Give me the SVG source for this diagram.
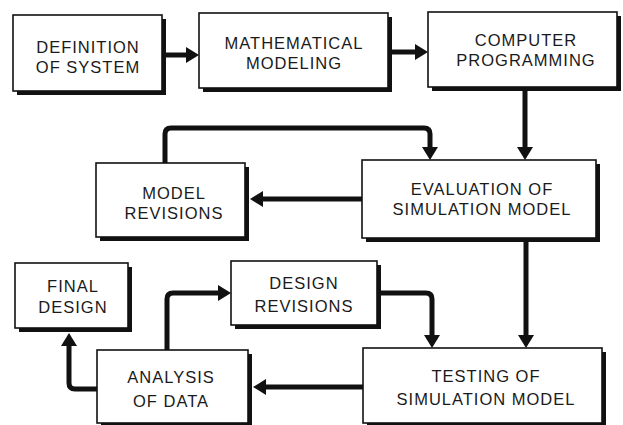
<svg xmlns="http://www.w3.org/2000/svg" width="623" height="425" viewBox="0 0 623 425">
<style>
.sh{fill:#111}
.bx{fill:#fff;stroke:#111;stroke-width:1.6}
.t{font-family:"Liberation Sans",Arial,sans-serif;font-size:16.5px;fill:#1a1a1a;text-anchor:middle;letter-spacing:1px}
.c{fill:none;stroke:#111;stroke-width:5;marker-end:url(#ah)}
</style>
<defs>
<marker id="ah" markerUnits="userSpaceOnUse" markerWidth="14" markerHeight="16" refX="0" refY="8" orient="auto" overflow="visible">
<path d="M0,0 L13,8 L0,16 Z" fill="#111"/>
</marker>
</defs>
<rect width="623" height="425" fill="#fff"/>
<g id="connectors">
<path class="c" d="M163,55 L186,55"/>
<path class="c" d="M389,52 L415,52"/>
<path class="c" d="M525,89 L525,147"/>
<path class="c" d="M165,164 L165,134 Q165,128 171,128 L424,128 Q430,128 430,134 L430,147"/>
<path class="c" d="M363,199 L263,199"/>
<path class="c" d="M526,240 L526,335"/>
<path class="c" d="M378,293 L426,293 Q432,293 432,299 L432,335"/>
<path class="c" d="M364,387 L266,387"/>
<path class="c" d="M167,351 L167,299 Q167,293 173,293 L218,293"/>
<path class="c" d="M98,389 L75,389 Q69,389 69,383 L69,346"/>
</g>
<g id="definition">
<rect class="sh" x="17" y="19" width="149" height="76"/>
<rect class="bx" x="13" y="15" width="149" height="76"/>
<text class="t" x="88" y="53">DEFINITION</text>
<text class="t" x="88" y="73">OF SYSTEM</text>
</g>
<g id="mathematical">
<rect class="sh" x="203" y="17" width="189" height="75"/>
<rect class="bx" x="199" y="13" width="189" height="75"/>
<text class="t" x="294" y="49">MATHEMATICAL</text>
<text class="t" x="294" y="69">MODELING</text>
</g>
<g id="computer">
<rect class="sh" x="432" y="16" width="189" height="75"/>
<rect class="bx" x="428" y="12" width="189" height="75"/>
<text class="t" x="526" y="46">COMPUTER</text>
<text class="t" x="526" y="66">PROGRAMMING</text>
</g>
<g id="modelrev">
<rect class="sh" x="100" y="167" width="149" height="74"/>
<rect class="bx" x="96" y="163" width="149" height="74"/>
<text class="t" x="174" y="199">MODEL</text>
<text class="t" x="174" y="219">REVISIONS</text>
</g>
<g id="evaluation">
<rect class="sh" x="366" y="164" width="234" height="78"/>
<rect class="bx" x="362" y="160" width="234" height="78"/>
<text class="t" x="482" y="195">EVALUATION OF</text>
<text class="t" x="482" y="215">SIMULATION MODEL</text>
</g>
<g id="finaldesign">
<rect class="sh" x="19" y="267" width="113" height="65"/>
<rect class="bx" x="15" y="263" width="113" height="65"/>
<text class="t" x="73" y="292">FINAL</text>
<text class="t" x="73" y="313">DESIGN</text>
</g>
<g id="designrev">
<rect class="sh" x="235" y="265" width="146" height="64"/>
<rect class="bx" x="231" y="261" width="146" height="64"/>
<text class="t" x="304" y="289">DESIGN</text>
<text class="t" x="304" y="312">REVISIONS</text>
</g>
<g id="analysis">
<rect class="sh" x="101" y="354" width="151" height="74"/>
<rect class="bx" x="97" y="350" width="151" height="73"/>
<text class="t" x="171" y="383">ANALYSIS</text>
<text class="t" x="171" y="407">OF DATA</text>
</g>
<g id="testing">
<rect class="sh" x="367" y="352" width="239" height="76"/>
<rect class="bx" x="363" y="348" width="239" height="75"/>
<text class="t" x="486" y="382">TESTING OF</text>
<text class="t" x="486" y="405">SIMULATION MODEL</text>
</g>
</svg>
